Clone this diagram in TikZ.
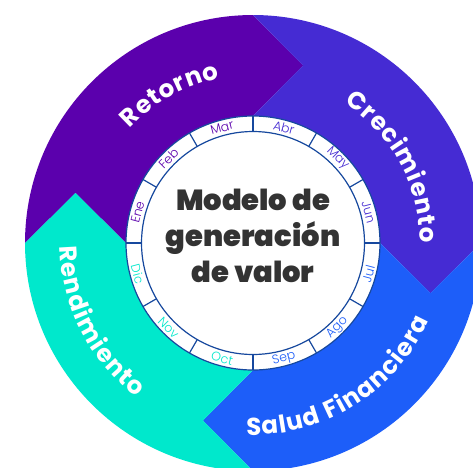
\documentclass[tikz,border=0pt]{standalone}
\usepackage{fontspec}
\setmainfont{Poppins}
\newfontfamily\heavyfont{Poppins Black}
\newfontfamily\lightfont{Poppins Light}
\usetikzlibrary{decorations.text}

\definecolor{retorno}{RGB}{91,0,173}
\definecolor{crecimiento}{RGB}{69,43,211}
\definecolor{salud}{RGB}{29,94,249}
\definecolor{rendimiento}{RGB}{0,232,204}
\definecolor{ringblue}{RGB}{22,72,158}
\definecolor{titlegray}{RGB}{51,51,51}

\newcommand\seglabelfont{\bfseries\fontsize{24.5}{24.5}\selectfont}

\begin{document}
\begin{tikzpicture}[x=1pt, y=1pt,
	ringline/.style={draw=ringblue, line width=1.2pt},
	monthlabel/.style={font=\lightfont\fontsize{12.5}{12.5}\selectfont, inner sep=0pt},
	seglabel/.style={decorate, decoration={text along path, text align={fit to path}, text color=white}}
	]
	
	\useasboundingbox (-253,-224) rectangle (220,243);
	\clip (-253,-224) rectangle (220,243);
	
	% Segments
	\foreach \rot/\col in {0/retorno, -90/crecimiento, -180/salud, -270/rendimiento}
		\fill[\col, rotate=\rot] (180:127) -- (-177.5,50) -- (180:228)
			arc[start angle=180, end angle=90, radius=228] -- (50,177.5) -- (90:127)
			arc[start angle=90, end angle=180, radius=127] -- cycle;
	
	% Segment labels
	\path[seglabel, decoration={text={|\seglabelfont|Retorno}}]
		(137:168) arc[start angle=137, end angle=101.5, radius=168];
	\path[seglabel, decoration={text={|\seglabelfont|Crecimiento}}]
		(57:167) arc[start angle=57, end angle=0, radius=167];
	\path[seglabel, decoration={text={|\seglabelfont|Salud Financiera}}]
		(268:192) arc[start angle=268, end angle=336, radius=192];
	\path[seglabel, decoration={text={|\seglabelfont|Rendimiento}}]
		(181:193) arc[start angle=181, end angle=233, radius=193];
	
	% Month ring
	\fill[white] (0,0) circle[radius=127];
	\draw[ringline] (0,0) circle[radius=127];
	\draw[ringline] (0,0) circle[radius=111.5];
	\foreach \a in {0,30,...,330}
		\draw[ringline] (\a:111.5) -- (\a:127);
	
	% Months
	\foreach \m/\a/\col in {Ene/165/retorno, Feb/135/retorno, Mar/105/retorno,
		Abr/75/crecimiento, May/45/crecimiento, Jun/15/crecimiento}
		\node[monthlabel, text=\col, rotate=\a-90] (m\m) at (\a:119.5) {\m};
	\foreach \m/\a/\col in {Jul/-15/salud, Ago/-45/salud, Sep/-75/salud,
		Oct/-105/rendimiento, Nov/-135/rendimiento, Dic/-165/rendimiento}
		\node[monthlabel, text=\col, rotate=\a+90] (m\m) at (\a:119.5) {\m};
	
	% Title
	\node[font=\heavyfont\fontsize{29}{36}\selectfont, text=titlegray, align=center] (title) at (0,7)
		{Modelo de\\generación\\de valor};
	
\end{tikzpicture}
\end{document}
